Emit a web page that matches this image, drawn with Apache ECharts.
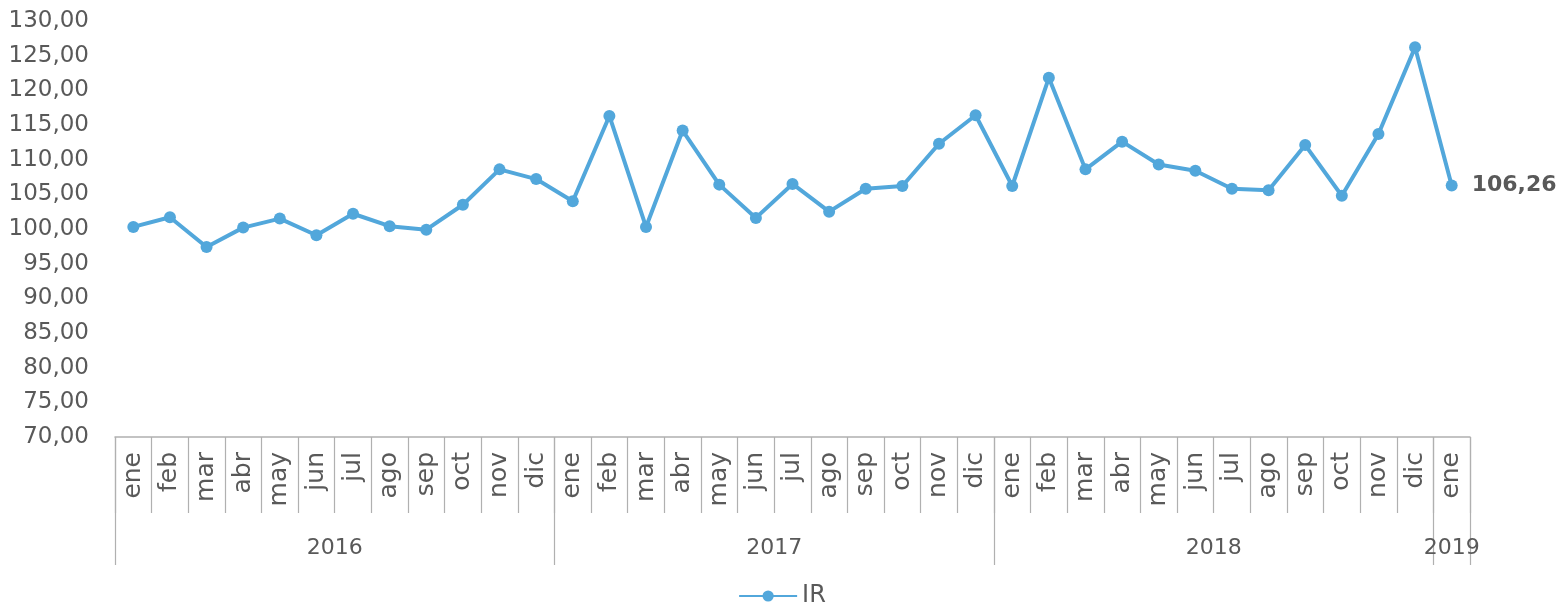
<!DOCTYPE html>
<html>
<head>
<meta charset="utf-8">
<script src="https://cdn.jsdelivr.net/npm/echarts@6/dist/echarts.min.js"></script>
<style>
html,body{margin:0;padding:0;background:#fff;}
#c{width:1564px;height:609px;}
</style>
</head>
<body>
<div id="c"></div>
<script>
const months = ['ene','feb','mar','abr','may','jun','jul','ago','sep','oct','nov','dic',
  'ene','feb','mar','abr','may','jun','jul','ago','sep','oct','nov','dic',
  'ene','feb','mar','abr','may','jun','jul','ago','sep','oct','nov','dic',
  'ene'];
const years = ['2016','2017','2018','2019'];
const yearStarts = [0, 12, 24, 36, 37];
const yearCenters = [6, 18, 30, 36.5];
const irValues = [100.3,101.7,97.4,100.2,101.5,99.1,102.2,100.4,99.9,103.5,108.6,107.2,
  104.0,116.3,100.3,114.2,106.4,101.6,106.5,102.5,105.8,106.2,112.3,116.4,
  106.2,121.8,108.6,112.6,109.3,108.4,105.8,105.6,112.1,104.8,113.7,126.2,
  106.26];
const yMin = 70, yMax = 130, yStep = 5;

const FONT = 'DejaVu Sans';
const TXT = '#595959';
const AX = '#b0b0b0';
const BLUE = '#52a7db';

const chart = echarts.init(document.getElementById('c'), null, {renderer:'canvas'});
chart.setOption({
  backgroundColor: '#ffffff',
  animation: false,
  textStyle: {fontFamily: FONT},
  grid: {left: 115, right: 94, top: 21, bottom: 172, containLabel: false},
  legend: {
    bottom: -4, left: 'center',
    itemWidth: 58, itemHeight: 14, itemGap: 3,
    textStyle: {color: TXT, fontSize: 24, fontFamily: FONT},
    data: ['IR']
  },
  xAxis: [{
    type: 'category',
    data: months,
    boundaryGap: true,
    axisLine: {show: true, lineStyle: {color: AX, width: 1.5}},
    axisTick: {show: true, length: 76, lineStyle: {color: AX, width: 1.2}},
    axisLabel: {rotate: 90, color: TXT, fontSize: 25, fontFamily: FONT, margin: 15, interval: 0},
    splitLine: {show: false}
  }, {
    type: 'value',
    position: 'bottom',
    min: 0, max: months.length,
    axisLine: {show: false},
    axisTick: {show: true, length: 128, customValues: yearStarts, lineStyle: {color: AX, width: 1.2}},
    axisLabel: {
      show: true, color: TXT, fontSize: 22, fontFamily: FONT, margin: 100,
      customValues: yearCenters,
      formatter: function (v) { return years[yearCenters.indexOf(v)] || ''; }
    },
    splitLine: {show: false}
  }],
  yAxis: {
    type: 'value',
    min: yMin, max: yMax, interval: yStep,
    axisLine: {show: false},
    axisTick: {show: false},
    splitLine: {show: false},
    axisLabel: {
      color: TXT, fontSize: 23, fontFamily: FONT, margin: 26,
      formatter: function (v) { return v.toFixed(2).replace('.', ','); }
    }
  },
  series: [{
    name: 'IR',
    type: 'line',
    xAxisIndex: 0,
    data: irValues,
    symbol: 'circle',
    symbolSize: 12,
    lineStyle: {color: BLUE, width: 4},
    itemStyle: {color: BLUE},
    label: {
      show: true, position: 'right', distance: 14,
      color: TXT, fontSize: 22, fontWeight: 'bold', fontFamily: FONT,
      formatter: function (p) {
        return p.dataIndex === irValues.length - 1 ? p.value.toFixed(2).replace('.', ',') : '';
      }
    }
  }]
});
</script>
</body>
</html>
